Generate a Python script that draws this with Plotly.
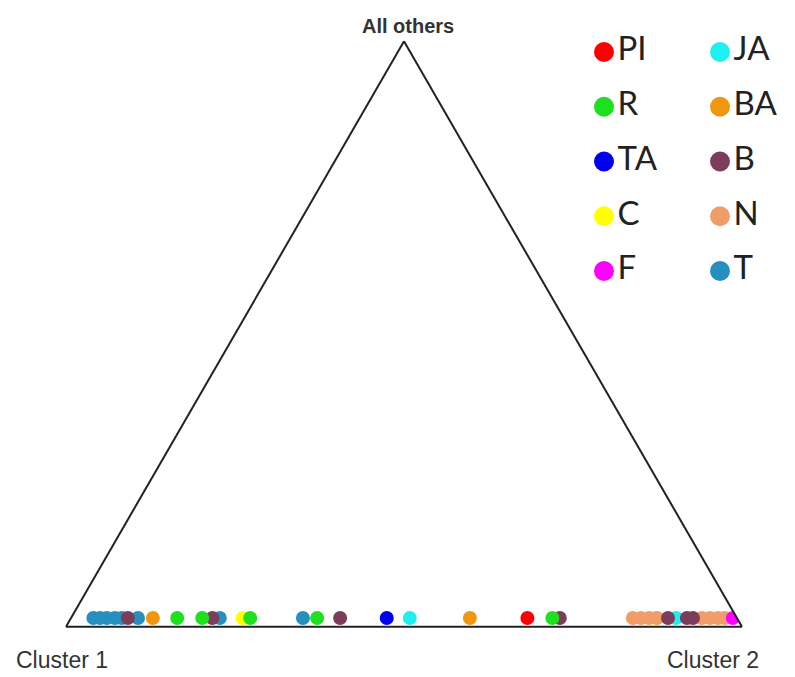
import plotly.graph_objects as go

# ---- data: proportion assigned to "Cluster 2" for each individual, per population ----
groups = ["PI", "R", "TA", "C", "F", "JA", "BA", "B", "N", "T"]
colors = {
    "PI": "#FF0000", "R": "#1FE01F", "TA": "#0000EE", "C": "#FFFF00", "F": "#FF00FF",
    "JA": "#1EF0F0", "BA": "#F0960F", "B": "#7D3C5A", "N": "#F19D6A", "T": "#2590C0",
}

q2_T = [0.033, 0.043, 0.053, 0.065, 0.075, 0.099, 0.220, 0.343]
q2_N = [0.831, 0.843, 0.855, 0.867, 0.933, 0.945, 0.957, 0.967]
q2_B = [0.084, 0.209, 0.398, 0.723, 0.883, 0.911, 0.920]
q2_BA = [0.121, 0.590]
q2_R = [0.157, 0.194, 0.265, 0.364, 0.712]
q2_C = [0.254, 0.864]
q2_JA = [0.501, 0.895]
q2_TA = [0.467]
q2_PI = [0.675]
q2_F = [0.979]

# proportion assigned to "All others" (tiny for every individual)
others_T = [0.015, 0.015, 0.015, 0.015, 0.015, 0.015, 0.015, 0.015]
others_N = [0.015, 0.015, 0.015, 0.015, 0.015, 0.015, 0.015, 0.015]
others_B = [0.015, 0.015, 0.015, 0.015, 0.015, 0.015, 0.015]
others_BA = [0.015, 0.015]
others_R = [0.015, 0.015, 0.015, 0.015, 0.015]
others_C = [0.015, 0.015]
others_JA = [0.015, 0.015]
others_TA = [0.015]
others_PI = [0.015]
others_F = [0.015]

series = {
    "T": (q2_T, others_T), "N": (q2_N, others_N), "B": (q2_B, others_B),
    "BA": (q2_BA, others_BA), "R": (q2_R, others_R), "C": (q2_C, others_C),
    "JA": (q2_JA, others_JA), "TA": (q2_TA, others_TA), "PI": (q2_PI, others_PI),
    "F": (q2_F, others_F),
}
draw_order = ["T", "C", "JA", "N", "B", "BA", "R", "TA", "PI", "F"]

legend_col1 = ["PI", "R", "TA", "C", "F"]
legend_col2 = ["JA", "BA", "B", "N", "T"]

fig = go.Figure()

for g in draw_order:
    c_vals, a_vals = series[g]
    b_vals = [1 - c - a for c, a in zip(c_vals, a_vals)]
    fig.add_trace(go.Scatterternary(
        a=a_vals, b=b_vals, c=c_vals, mode="markers", name=g,
        marker=dict(color=colors[g], size=14, line=dict(width=0)),
        showlegend=False, hoverinfo="name",
    ))

# legend drawn as a small two-column key on an invisible xy subplot
for col, names in enumerate([legend_col1, legend_col2]):
    for row, g in enumerate(names):
        fig.add_trace(go.Scatter(
            x=[col], y=[row], mode="markers+text", text=[g],
            textposition="middle right",
            textfont=dict(family="Lato", size=33, color="#222"),
            marker=dict(color=colors[g], size=20),
            showlegend=False, hoverinfo="skip", xaxis="x", yaxis="y",
        ))

# the page body has an 8px default margin, so the figure is 8px smaller
W, H = 787, 669
axis_common = dict(showgrid=False, showticklabels=False, ticks="", showline=True,
                   linecolor="#222", linewidth=2, title=dict(text=""))

fig.update_layout(
    width=W, height=H,
    margin=dict(l=0, r=0, t=0, b=0),
    paper_bgcolor="white", plot_bgcolor="rgba(0,0,0,0)",
    showlegend=False,
    ternary=dict(
        domain=dict(x=[58 / W, 734 / W], y=[(H - 620) / H, (H - 32) / H]),
        bgcolor="white", sum=1,
        aaxis=axis_common, baxis=axis_common, caxis=axis_common,
    ),
    xaxis=dict(domain=[0, 1], range=[-596 / 116, (W - 596) / 116], visible=False,
               fixedrange=True),
    yaxis=dict(domain=[0, 1], range=[(H - 44) / 54.75, -44 / 54.75], visible=False,
               fixedrange=True),
    annotations=[
        dict(text="<b>All others</b>", x=400 / W, y=1 - 18 / H, xref="paper", yref="paper",
             showarrow=False, font=dict(family="Liberation Sans", size=20, color="#333"),
             xanchor="center", yanchor="middle"),
        dict(text="Cluster 1", x=54 / W, y=1 - 652 / H, xref="paper", yref="paper",
             showarrow=False, font=dict(family="Liberation Sans", size=23, color="#333"),
             xanchor="center", yanchor="middle"),
        dict(text="Cluster 2", x=705 / W, y=1 - 652 / H, xref="paper", yref="paper",
             showarrow=False, font=dict(family="Liberation Sans", size=23, color="#333"),
             xanchor="center", yanchor="middle"),
    ],
)

fig.write_html("out.html")
